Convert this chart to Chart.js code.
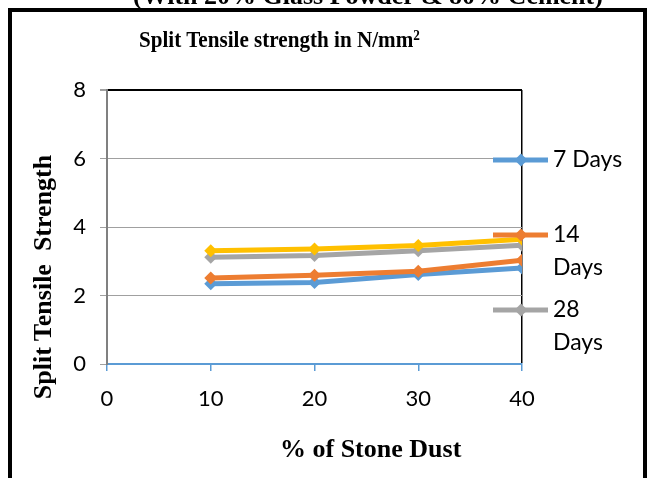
<!DOCTYPE html>
<html>
<head>
<meta charset="utf-8">
<script src="https://cdn.jsdelivr.net/npm/chart.js@4.4.0/dist/chart.umd.min.js"></script>
<style>
  body { margin: 0; background: #fff; }
  #wrap { position: relative; width: 648px; height: 478px; overflow: hidden; background: #fff; }
  #chart { position: absolute; left: 0; top: 0; }
  .frame { position: absolute; left: 8px; top: 8px; width: 631px; height: 500px; border: 4px solid #000; }
  .serif { position: absolute; font-family: "Liberation Serif", "Times New Roman", serif; font-weight: bold; color: #000; white-space: nowrap; }
</style>
</head>
<body>
<div id="wrap">
  <canvas id="chart" width="648" height="478"></canvas>
  <div class="frame"></div>
  <div class="serif" style="left:133px; top:-17px; font-size:26px; line-height:26px;">(With 20% Glass Powder &amp; 80% Cement)</div>
  <div class="serif" style="left:139px; top:27px; font-size:24px; line-height:24px; transform:scaleX(0.88); transform-origin:left center;">Split Tensile strength in N/mm<span style="font-size:15px; line-height:0; vertical-align:0.5em;">2</span></div>
  <div class="serif" style="left:280px; top:436px; font-size:26px; line-height:26px;">% of Stone Dust</div>
  <div class="serif" style="left:-107px; top:264px; width:300px; text-align:center; font-size:26px; line-height:26px; transform:rotate(-90deg); white-space:pre;">Split Tensile  Strength</div>
</div>
<script>
const stoneDust = [10, 20, 30, 40];
const days7 = [2.34, 2.38, 2.61, 2.8];
const days14 = [2.51, 2.59, 2.71, 3.03];
const days28 = [3.12, 3.17, 3.31, 3.47];
const days56 = [3.31, 3.36, 3.46, 3.64];
const seriesNames = ["7 Days", "14 Days", "28 Days", "56 Days"];
const seriesColors = ["#5B9BD5", "#ED7D31", "#A5A5A5", "#FFC000"];
// how the legend wraps each entry (the 4th entry does not fit in the box)
const legendLines = [["7 Days"], ["14", "Days"], ["28", "Days"]];

const tickFont = { family: "Lato", size: 22 };

function toPoints(values) {
  return values.map((v, i) => ({ x: stoneDust[i], y: v }));
}

const allSeries = [days7, days14, days28, days56];

const sideLegend = {
  id: "sideLegend",
  afterDraw(chart) {
    const ctx = chart.ctx;
    const x0 = 493, x1 = 548, xm = 521, tx = 553;
    ctx.save();
    legendLines.forEach((lines, i) => {
      const y = 160 + i * 75;
      const color = seriesColors[i];
      ctx.strokeStyle = color;
      ctx.lineWidth = 5;
      ctx.beginPath();
      ctx.moveTo(x0, y);
      ctx.lineTo(x1, y);
      ctx.stroke();
      ctx.fillStyle = color;
      ctx.beginPath();
      ctx.moveTo(xm, y - 6.5);
      ctx.lineTo(xm + 6.5, y);
      ctx.lineTo(xm, y + 6.5);
      ctx.lineTo(xm - 6.5, y);
      ctx.closePath();
      ctx.fill();
      ctx.fillStyle = "#000";
      ctx.font = "23px " + tickFont.family;
      ctx.textBaseline = "middle";
      ctx.textAlign = "left";
      lines.forEach((t, j) => ctx.fillText(t, tx, y + j * 33));
    });
    ctx.restore();
  },
};

new Chart(document.getElementById("chart"), {
  type: "line",
  data: {
    datasets: allSeries.map((vals, i) => ({
      label: seriesNames[i],
      data: toPoints(vals),
      borderColor: seriesColors[i],
      backgroundColor: seriesColors[i],
      borderWidth: 5,
      pointStyle: "rectRot",
      pointRadius: 6.5,
      pointBorderWidth: 0,
      order: allSeries.length - i,
    })),
  },
  options: {
    responsive: false,
    animation: false,
    layout: { padding: { top: 90, right: 126, left: 0, bottom: 0 } },
    plugins: { legend: { display: false }, tooltip: { enabled: false } },
    scales: {
      x: {
        type: "linear",
        min: 0,
        max: 40,
        afterFit: (s) => { s.height = 114; },
        ticks: { stepSize: 10, color: "#000", font: tickFont, padding: 15, maxRotation: 0 },
        grid: {
          color: (c) => (c.tick && c.tick.value === 40 ? "#000" : "rgba(0,0,0,0)"),
          tickColor: "#5B9BD5",
          tickLength: 7,
          lineWidth: 1.5,
        },
        border: { color: "#5B9BD5", width: 2 },
      },
      y: {
        min: 0,
        max: 8,
        afterFit: (s) => { s.width = 107; },
        ticks: { stepSize: 2, color: "#000", font: tickFont, padding: 14 },
        grid: {
          color: (c) => {
            if (!c.tick) return "#a0a0a0";
            if (c.tick.value === 8) return "#000";
            if (c.tick.value === 0) return "rgba(0,0,0,0)";
            return "#a0a0a0";
          },
          lineWidth: (c) => (c.tick && c.tick.value === 8 ? 2 : 1),
          tickColor: "#a0a0a0",
          tickLength: 7,
        },
        border: { color: "#808080", width: 2 },
      },
    },
  },
  plugins: [sideLegend],
});
</script>
</body>
</html>
